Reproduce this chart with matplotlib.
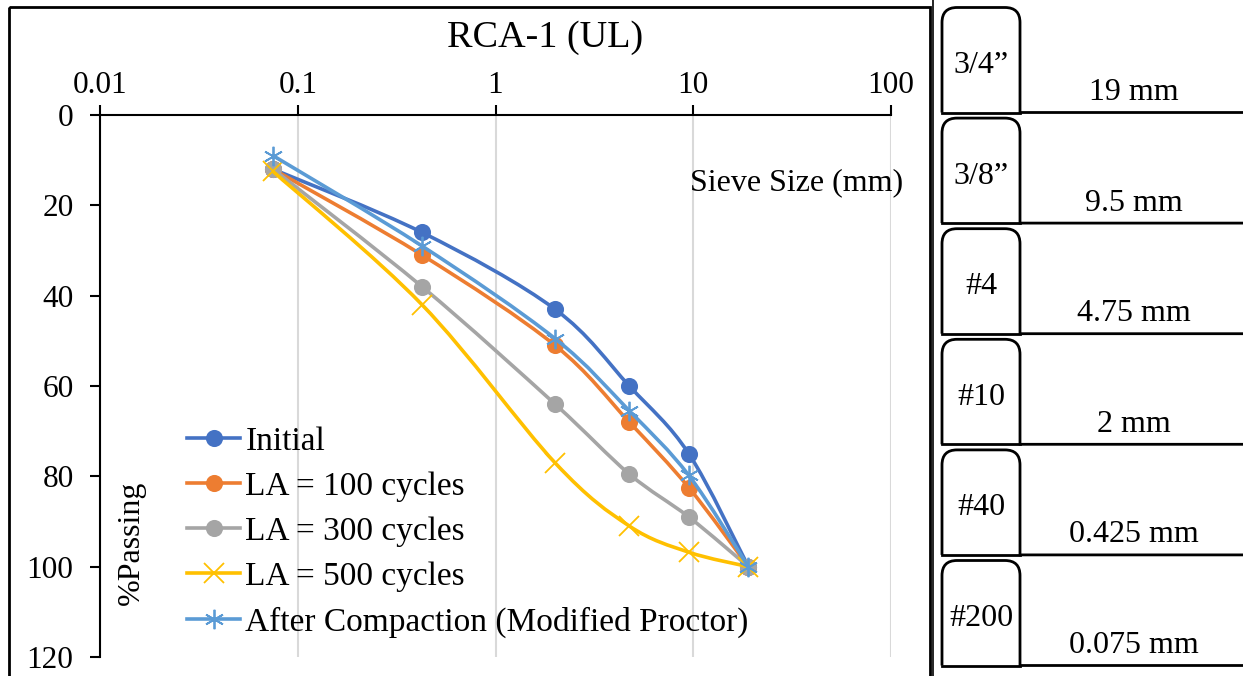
import numpy as np
import matplotlib
matplotlib.use('Agg')
import matplotlib.pyplot as plt
from matplotlib.path import Path
from matplotlib.patches import PathPatch, Rectangle
from matplotlib.lines import Line2D

plt.rcParams['font.family'] = ['Liberation Serif', 'DejaVu Serif']

# sieve sizes (mm) and % passing for each sample
sieve_mm = [0.075, 0.425, 2, 4.75, 9.5, 19]
initial = [12, 26, 43, 60, 75, 100]
la_100 = [12, 31, 51, 68, 82.5, 100]
la_300 = [12, 38, 64, 79.5, 89, 100]
la_500 = [12.5, 42, 77, 91, 96.8, 100]
compacted = [9, 29, 49.5, 65.5, 79.8, 100]

series_names = ['Initial', 'LA = 100 cycles', 'LA = 300 cycles',
                'LA = 500 cycles', 'After Compaction (Modified Proctor)']
series_colors = ['#4472C4', '#ED7D31', '#A5A5A5', '#FFC000', '#5B9BD5']
series_markers = ['o', 'o', 'o', 'x', (6, 2, 0)]

sieve_names = ['3/4\u201d', '3/8\u201d', '#4', '#10', '#40', '#200']
sieve_labels = ['19 mm', '9.5 mm', '4.75 mm', '2 mm', '0.425 mm', '0.075 mm']


def smooth_path(xs, ys):
    # Catmull-Rom style bezier in (log x, y), like a spreadsheet smoothed line
    lx = np.log10(xs)
    y = np.asarray(ys, dtype=float)
    n = len(lx)
    verts = [(xs[0], y[0])]
    codes = [Path.MOVETO]
    for i in range(n - 1):
        p0 = max(i - 1, 0)
        p3 = min(i + 2, n - 1)
        c1x = lx[i] + (lx[i + 1] - lx[p0]) / 6
        c1y = y[i] + (y[i + 1] - y[p0]) / 6
        c2x = lx[i + 1] - (lx[p3] - lx[i]) / 6
        c2y = y[i + 1] - (y[p3] - y[i]) / 6
        verts += [(10 ** c1x, c1y), (10 ** c2x, c2y), (xs[i + 1], y[i + 1])]
        codes += [Path.CURVE4] * 3
    return Path(verts, codes)


fig = plt.figure(figsize=(12.43, 6.76), dpi=100)
ax = fig.add_axes([100 / 1243, 19 / 676, 791 / 1243, 542 / 676])

all_series = [initial, la_100, la_300, la_500, compacted]
handles = []
for k, vals in enumerate(all_series):
    c = series_colors[k]
    ax.add_patch(PathPatch(smooth_path(sieve_mm, vals), fill=False,
                           edgecolor=c, lw=2.6, zorder=3 + k))
    ms = 11 if series_markers[k] == 'o' else 14
    ax.plot(sieve_mm, vals, ls='none', marker=series_markers[k], ms=ms,
            color=c, mew=1.3, zorder=3 + k)
    handles.append(Line2D([], [], color=c, lw=2.6, marker=series_markers[k],
                          ms=ms, mew=1.3))

ax.set_xscale('log')
ax.set_xlim(0.01, 100)
ax.set_ylim(120, 0)
ax.set_yticks(np.arange(0, 121, 20))
ax.set_xticks([0.01, 0.1, 1, 10, 100])
ax.set_xticklabels(['0.01', '0.1', '1', '10', '100'])
ax.minorticks_off()
ax.xaxis.set_ticks_position('top')
ax.xaxis.set_label_position('top')
ax.tick_params(axis='both', labelsize=22.5, direction='out', length=7, width=1.5)
ax.tick_params(axis='x', pad=4)
ax.tick_params(axis='y', pad=12)
for s in ['right', 'bottom']:
    ax.spines[s].set_visible(False)
for s in ['left', 'top']:
    ax.spines[s].set_linewidth(1.5)
ax.grid(axis='x', color='#D9D9D9', lw=1.5)
ax.set_axisbelow(True)

ax.text(0.88, 0.875, 'Sieve Size (mm)', transform=ax.transAxes, fontsize=23,
        ha='center', va='center')
ax.text(0.04, 0.21, '%Passing', transform=ax.transAxes, fontsize=23,
        rotation=90, ha='center', va='center')
fig.text(545 / 1243, 1 - 38 / 676, 'RCA-1 (UL)', fontsize=27.5,
         ha='center', va='center')

ax.legend(handles, series_names, loc='lower left', bbox_to_anchor=(0.11, 0.035),
          frameon=False, fontsize=24, handlelength=1.6, handletextpad=0.15,
          labelspacing=0.44, borderaxespad=0.0, borderpad=0.0)

# overlay in pixel units for the frame and the sieve panel
ov = fig.add_axes([0, 0, 1, 1], zorder=-1)
ov.set_xlim(0, 1243)
ov.set_ylim(676, 0)
ov.axis('off')
ov.add_patch(Rectangle((9, 7), 921, 700, fill=False, lw=2, edgecolor='black'))
ov.plot([933.5, 933.5], [0, 676], color='black', lw=1.2)

tab_l, tab_r, r = 942, 1020, 15
for i, (nm, lab) in enumerate(zip(sieve_names, sieve_labels)):
    top = 7.5 + i * 110.6
    bot = top + 105
    verts = [(tab_l, bot), (tab_l, top + r), (tab_l, top), (tab_l + r, top),
             (tab_r - r, top), (tab_r, top), (tab_r, top + r), (tab_r, bot),
             (1243, bot)]
    codes = [Path.MOVETO, Path.LINETO, Path.CURVE3, Path.CURVE3, Path.LINETO,
             Path.CURVE3, Path.CURVE3, Path.LINETO, Path.LINETO]
    ov.add_patch(PathPatch(Path(verts, codes), fill=False, lw=2, edgecolor='black'))
    ov.plot([tab_l, tab_r], [bot, bot], color='black', lw=2)
    ov.text((tab_l + tab_r) / 2, top + 58, nm, fontsize=23, ha='center', va='center')
    ov.text(1134, top + 85, lab, fontsize=23, ha='center', va='center')

fig.savefig('out.png', dpi=100)
